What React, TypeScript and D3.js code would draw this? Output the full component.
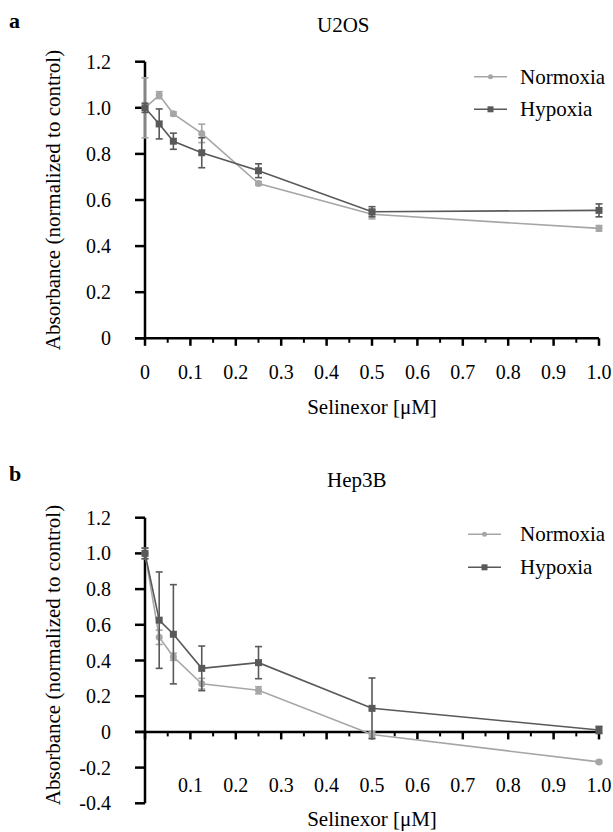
import { useEffect, useRef } from "react";
import * as d3 from "d3";

const doses = [0, 0.03125, 0.0625, 0.125, 0.25, 0.5, 1.0];

const u2osNormoxia = [1.0, 1.055, 0.974, 0.889, 0.672, 0.538, 0.477];
const u2osNormoxiaErr = [0.13, 0.015, 0.008, 0.04, 0.008, 0.02, 0.012];
const u2osHypoxia = [1.0, 0.93, 0.855, 0.805, 0.727, 0.549, 0.555];
const u2osHypoxiaErr = [0.02, 0.065, 0.035, 0.065, 0.03, 0.022, 0.028];

const hepNormoxia = [1.0, 0.53, 0.421, 0.27, 0.233, -0.015, -0.168];
const hepNormoxiaErr = [0.03, 0.04, 0.02, 0.03, 0.02, 0.015, 0.008];
const hepHypoxia = [1.0, 0.626, 0.547, 0.356, 0.388, 0.132, 0.011];
const hepHypoxiaErr = [0.03, 0.27, 0.278, 0.125, 0.09, 0.17, 0.02];

const yTicksA = [0, 0.2, 0.4, 0.6, 0.8, 1.0, 1.2];
const yTicksB = [-0.4, -0.2, 0, 0.2, 0.4, 0.6, 0.8, 1.0, 1.2];
const xTicks = [0, 0.1, 0.2, 0.3, 0.4, 0.5, 0.6, 0.7, 0.8, 0.9, 1.0];
const xMinorTicks = [0.05, 0.15, 0.25, 0.35, 0.45, 0.55, 0.65, 0.75, 0.85, 0.95];

const seriesNames = ["Normoxia", "Hypoxia"];
const seriesColors = ["#a6a6a6", "#595959"];

const fmt = (d: number) => (d === 0 ? "0" : d.toFixed(1));

const App = () => {
  const svgRef = useRef<SVGSVGElement>(null);

  useEffect(() => {
    const svg = d3.select(svgRef.current);
    svg.selectAll("*").remove();
    const font = "Liberation Serif";

    const xScale = d3.scaleLinear().domain([0, 1]).range([145, 599]);

    const panels = [
      {
        letter: "a",
        letterY: 28,
        title: "U2OS",
        titleX: 317,
        titleY: 32,
        y: d3.scaleLinear().domain([0, 1.2]).range([338.3, 61.7]),
        yTicks: yTicksA,
        showZeroX: true,
        xLabelY: 379,
        xTitleY: 414,
        yTitleY: 200,
        legendY: [76.7, 109.3],
        legendX: 474,
        series: [
          { v: u2osNormoxia, e: u2osNormoxiaErr },
          { v: u2osHypoxia, e: u2osHypoxiaErr },
        ],
      },
      {
        letter: "b",
        letterY: 481,
        title: "Hep3B",
        titleX: 327,
        titleY: 487,
        y: d3.scaleLinear().domain([-0.4, 1.2]).range([803.3, 517.7]),
        yTicks: yTicksB,
        showZeroX: false,
        xLabelY: 792,
        xTitleY: 826,
        yTitleY: 655,
        legendY: [534.3, 567.3],
        legendX: 468,
        series: [
          { v: hepNormoxia, e: hepNormoxiaErr },
          { v: hepHypoxia, e: hepHypoxiaErr },
        ],
      },
    ];

    panels.forEach((p) => {
      const g = svg.append("g").attr("font-family", font);
      const y = p.y;
      const y0 = y(0);

      // panel letter and title
      g.append("text")
        .attr("x", 9)
        .attr("y", p.letterY)
        .attr("font-weight", "bold")
        .attr("font-size", 22)
        .text(p.letter);
      g.append("text")
        .attr("x", p.titleX)
        .attr("y", p.titleY)
        .attr("font-size", 21)
        .text(p.title);

      // y axis
      const [yMin, yMax] = y.domain();
      g.append("line")
        .attr("x1", 145)
        .attr("x2", 145)
        .attr("y1", y(yMin))
        .attr("y2", y(yMax))
        .attr("stroke", "#000")
        .attr("stroke-width", 2.5);
      p.yTicks.forEach((t) => {
        g.append("line")
          .attr("x1", 135)
          .attr("x2", 145)
          .attr("y1", y(t))
          .attr("y2", y(t))
          .attr("stroke", "#000")
          .attr("stroke-width", 2.5);
        g.append("text")
          .attr("x", 111)
          .attr("y", y(t) + 7)
          .attr("text-anchor", "end")
          .attr("font-size", 20)
          .text(fmt(t));
      });

      // x axis
      g.append("line")
        .attr("x1", 135)
        .attr("x2", xScale(1))
        .attr("y1", y0)
        .attr("y2", y0)
        .attr("stroke", "#000")
        .attr("stroke-width", 2.5);
      xTicks.forEach((t) => {
        g.append("line")
          .attr("x1", xScale(t))
          .attr("x2", xScale(t))
          .attr("y1", y0)
          .attr("y2", y0 + 7.5)
          .attr("stroke", "#000")
          .attr("stroke-width", 2.5);
        if (t !== 0 || p.showZeroX) {
          g.append("text")
            .attr("x", xScale(t))
            .attr("y", p.xLabelY)
            .attr("text-anchor", "middle")
            .attr("font-size", 20)
            .text(fmt(t));
        }
      });
      xMinorTicks.forEach((t) => {
        g.append("line")
          .attr("x1", xScale(t))
          .attr("x2", xScale(t))
          .attr("y1", y0)
          .attr("y2", y0 + 4.5)
          .attr("stroke", "#000")
          .attr("stroke-width", 2);
      });

      // axis titles
      g.append("text")
        .attr("x", xScale(0.5))
        .attr("y", p.xTitleY)
        .attr("text-anchor", "middle")
        .attr("font-size", 21)
        .text("Selinexor [μM]");
      g.append("text")
        .attr("transform", `translate(60, ${p.yTitleY}) rotate(-90)`)
        .attr("text-anchor", "middle")
        .attr("font-size", 21)
        .text("Absorbance (normalized to control)");

      // series
      const line = d3
        .line<number>()
        .x((d, i) => xScale(doses[i]))
        .y((d) => y(d));

      p.series.forEach((s, si) => {
        const color = seriesColors[si];
        g.append("path")
          .datum(s.v)
          .attr("d", line)
          .attr("fill", "none")
          .attr("stroke", color)
          .attr("stroke-width", 1.6);

        s.v.forEach((v, i) => {
          const cx = xScale(doses[i]);
          const hi = y(v + s.e[i]);
          const lo = y(v - s.e[i]);
          g.append("line")
            .attr("x1", cx)
            .attr("x2", cx)
            .attr("y1", hi)
            .attr("y2", lo)
            .attr("stroke", color)
            .attr("stroke-width", 1.6);
          [hi, lo].forEach((yy) => {
            g.append("line")
              .attr("x1", cx - 3.5)
              .attr("x2", cx + 3.5)
              .attr("y1", yy)
              .attr("y2", yy)
              .attr("stroke", color)
              .attr("stroke-width", 1.6);
          });
          if (si === 0) {
            g.append("circle")
              .attr("cx", cx)
              .attr("cy", y(v))
              .attr("r", 3.5)
              .attr("fill", color);
          } else {
            g.append("rect")
              .attr("x", cx - 3.5)
              .attr("y", y(v) - 3.5)
              .attr("width", 7)
              .attr("height", 7)
              .attr("fill", color);
          }
        });
      });

      // legend
      seriesNames.forEach((name, si) => {
        const ly = p.legendY[si];
        const color = seriesColors[si];
        g.append("line")
          .attr("x1", p.legendX)
          .attr("x2", p.legendX + 33)
          .attr("y1", ly)
          .attr("y2", ly)
          .attr("stroke", color)
          .attr("stroke-width", 1.6);
        if (si === 0) {
          g.append("circle")
            .attr("cx", p.legendX + 16.5)
            .attr("cy", ly)
            .attr("r", 2.5)
            .attr("fill", color);
        } else {
          g.append("rect")
            .attr("x", p.legendX + 13.5)
            .attr("y", ly - 3)
            .attr("width", 6)
            .attr("height", 6)
            .attr("fill", color);
        }
        g.append("text")
          .attr("x", 520)
          .attr("y", ly + 7)
          .attr("font-size", 21)
          .text(name);
      });
    });
  }, []);

  return (
    <svg
      ref={svgRef}
      width={613}
      height={832}
      style={{ position: "absolute", left: 0, top: 0, background: "#fff" }}
    ></svg>
  );
};

export default App;
